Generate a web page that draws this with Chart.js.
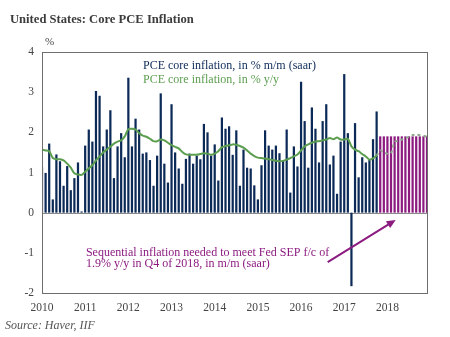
<!DOCTYPE html>
<html>
<head>
<meta charset="utf-8">
<script src="https://cdn.jsdelivr.net/npm/chart.js@4/dist/chart.umd.min.js"></script>
<style>
  html, body { margin: 0; padding: 0; background: #ffffff; }
  #wrap { width: 450px; height: 337px; position: relative; }
</style>
</head>
<body>
<div id="wrap"><canvas id="c" width="450" height="337"></canvas></div>
<script>
// Year labels along the time axis (monthly data, Jan 2010 – Dec 2018)
const years = ['2010', '2011', '2012', '2013', '2014', '2015', '2016', '2017', '2018'];
const monthNames = ['Jan', 'Feb', 'Mar', 'Apr', 'May', 'Jun', 'Jul', 'Aug', 'Sep', 'Oct', 'Nov', 'Dec'];

// PCE core inflation, % m/m seasonally adjusted annual rate (Jan 2010 – Oct 2017)
const coreMomSaar = [
  1.13, 0.99, 1.72, 0.33, 1.45, 1.28, 0.67, 1.16, 0.56, 0.86, 1.25, 0.03,
  1.67, 2.07, 1.77, 3.03, 2.91, 1.65, 2.07, 2.55, 0.86, 1.65, 1.98, 1.38,
  3.36, 1.65, 2.34, 2.07, 1.47, 1.50, 1.31, 0.67, 1.42, 2.97, 1.22, 0.75,
  2.70, 1.50, 1.10, 0.72, 1.34, 1.47, 1.22, 1.42, 1.33, 2.21, 2.00, 1.42,
  1.70, 0.80, 2.37, 2.09, 2.15, 1.44, 2.05, 0.67, 1.57, 1.12, 1.10, 0.68,
  0.33, 1.18, 2.05, 1.67, 1.57, 1.67, 1.48, 1.30, 2.07, 0.50, 1.65, 1.15,
  3.26, 2.28, 1.12, 2.62, 2.09, 1.25, 2.28, 2.70, 1.20, 1.42, 0.47, 1.77,
  3.45, 1.98, -1.83, 2.23, 0.88, 1.38, 1.25, 1.31, 1.83, 2.52
];

// PCE core inflation, % y/y (Jan 2010 – Oct 2017)
const coreYoy = [
  1.57, 1.55, 1.53, 1.36, 1.33, 1.33, 1.30, 1.22, 1.12, 0.98, 0.95, 0.94,
  1.02, 1.10, 1.18, 1.30, 1.40, 1.50, 1.57, 1.64, 1.72, 1.77, 1.80, 1.90,
  2.08, 2.09, 2.07, 1.98, 1.92, 1.89, 1.84, 1.78, 1.78, 1.82, 1.80, 1.74,
  1.68, 1.64, 1.60, 1.51, 1.45, 1.44, 1.44, 1.44, 1.46, 1.48, 1.47, 1.44,
  1.47, 1.53, 1.63, 1.66, 1.68, 1.70, 1.69, 1.66, 1.62, 1.55, 1.47, 1.41,
  1.37, 1.36, 1.35, 1.33, 1.31, 1.29, 1.28, 1.29, 1.32, 1.36, 1.40, 1.45,
  1.55, 1.65, 1.70, 1.74, 1.77, 1.78, 1.80, 1.82, 1.86, 1.83, 1.87, 1.82,
  1.82, 1.84, 1.65, 1.57, 1.53, 1.46, 1.40, 1.32, 1.35, 1.42
];

// Required sequential inflation, % m/m saar (Nov 2017 – Dec 2018)
const requiredMomSaar = [1.9, 1.9, 1.9, 1.9, 1.9, 1.9, 1.9, 1.9, 1.9, 1.9, 1.9, 1.9, 1.9, 1.9];

// Implied y/y path under the required pace (Oct 2017 – Dec 2018)
const impliedYoy = [1.42, 1.55, 1.50, 1.47, 1.48, 1.76, 1.79, 1.82, 1.85, 1.89, 1.93, 1.94, 1.93, 1.91, 1.90];

// Y-axis tick values
const yTicks = [4, 3, 2, 1, 0, -1, -2];

// Build category list and aligned series
const categories = [];
years.forEach(y => monthNames.forEach(m => categories.push(m + ' ' + y)));
const actualLen = coreMomSaar.length;

const barsActual = categories.map((_, i) => i < actualLen ? coreMomSaar[i] : null);
const barsRequired = categories.map((_, i) => i >= actualLen ? requiredMomSaar[i - actualLen] : null);
const lineActual = categories.map((_, i) => i < coreYoy.length ? coreYoy[i] : null);
const lineImplied = categories.map((_, i) => {
  const k = i - (coreYoy.length - 1);
  return k >= 0 && k < impliedYoy.length ? impliedYoy[k] : null;
});

const SERIF = '"Liberation Serif", "DejaVu Serif", serif';
const NAVY = '#0c2a57';
const GREEN = '#5c9e50';
const PURPLE = '#8c1b80';

// Annotation: arrow and note, positioned in data units
const noteLines = [
  'Sequential inflation needed to meet Fed SEP f/c of',
  '1.9% y/y in Q4 of 2018, in m/m (saar)'
];
const arrowFrom = { x: 79.4, y: -1.23 };
const arrowTo = { x: 98.3, y: -0.18 };

const decor = {
  id: 'decor',
  beforeDatasetsDraw(chart) {
    const { ctx, chartArea: a, scales } = chart;
    const y0 = scales.y.getPixelForValue(0);
    ctx.save();
    ctx.strokeStyle = '#8a8a8a';
    ctx.lineWidth = 1;
    ctx.beginPath();
    ctx.moveTo(a.left, Math.round(y0) + 0.5);
    ctx.lineTo(a.right, Math.round(y0) + 0.5);
    ctx.stroke();
    ctx.restore();
  },
  afterDraw(chart) {
    const { ctx, chartArea: a, scales } = chart;
    const xs = scales.x, ys = scales.y;
    ctx.save();
    // plot frame
    ctx.strokeStyle = '#6e6e6e';
    ctx.lineWidth = 1;
    ctx.strokeRect(Math.round(a.left) + 0.5, Math.round(a.top) + 0.5,
                   Math.round(a.right - a.left), Math.round(a.bottom - a.top));

    // title
    ctx.fillStyle = '#3c3c3c';
    ctx.textBaseline = 'middle';
    ctx.textAlign = 'left';
    ctx.font = 'bold 12.6px ' + SERIF;
    ctx.fillText('United States: Core PCE Inflation', 10, 20);

    // unit label
    ctx.font = '11px ' + SERIF;
    ctx.fillStyle = '#444';
    ctx.fillText('%', a.left + 3, 42);

    // series legend
    ctx.font = '12px ' + SERIF;
    ctx.fillStyle = NAVY;
    ctx.fillText('PCE core inflation, in % m/m (saar)', 143, 66);
    ctx.fillStyle = GREEN;
    ctx.fillText('PCE core inflation, in % y/y', 143, 80);

    // note
    ctx.fillStyle = PURPLE;
    ctx.font = '12px ' + SERIF;
    ctx.fillText(noteLines[0], xs.getPixelForValue(12.2), ys.getPixelForValue(-0.99));
    ctx.fillText(noteLines[1], xs.getPixelForValue(12.2), ys.getPixelForValue(-1.28));

    // arrow
    const x1 = xs.getPixelForValue(arrowFrom.x), y1 = ys.getPixelForValue(arrowFrom.y);
    const x2 = xs.getPixelForValue(arrowTo.x), y2 = ys.getPixelForValue(arrowTo.y);
    const ang = Math.atan2(y2 - y1, x2 - x1);
    ctx.strokeStyle = PURPLE;
    ctx.lineWidth = 2;
    ctx.beginPath();
    ctx.moveTo(x1, y1);
    ctx.lineTo(x2 - 6 * Math.cos(ang), y2 - 6 * Math.sin(ang));
    ctx.stroke();
    ctx.beginPath();
    ctx.moveTo(x2, y2);
    ctx.lineTo(x2 - 9 * Math.cos(ang) + 4 * Math.sin(ang), y2 - 9 * Math.sin(ang) - 4 * Math.cos(ang));
    ctx.lineTo(x2 - 9 * Math.cos(ang) - 4 * Math.sin(ang), y2 - 9 * Math.sin(ang) + 4 * Math.cos(ang));
    ctx.closePath();
    ctx.fillStyle = PURPLE;
    ctx.fill();

    // source
    ctx.fillStyle = '#555';
    ctx.font = 'italic 12px ' + SERIF;
    ctx.fillText('Source: Haver, IIF', 5, 326);
    ctx.restore();
  }
};

new Chart(document.getElementById('c'), {
  data: {
    labels: categories,
    datasets: [
      {
        type: 'line', label: 'PCE core inflation, in % y/y', data: lineActual,
        borderColor: GREEN, borderWidth: 2, pointRadius: 0, tension: 0.25,
        spanGaps: false, order: 0
      },
      {
        type: 'line', label: 'Implied y/y', data: lineImplied,
        borderColor: '#8fa58c', borderWidth: 2, borderDash: [3, 3], pointRadius: 0,
        tension: 0.25, spanGaps: false, order: 0
      },
      {
        type: 'bar', label: 'PCE core inflation, in % m/m (saar)', data: barsActual,
        backgroundColor: NAVY, grouped: false, barPercentage: 0.62, categoryPercentage: 1.0, order: 1
      },
      {
        type: 'bar', label: 'Required m/m (saar)', data: barsRequired,
        backgroundColor: PURPLE, grouped: false, barPercentage: 0.62, categoryPercentage: 1.0, order: 1
      }
    ]
  },
  options: {
    responsive: false,
    animation: false,
    devicePixelRatio: 1,
    layout: { padding: { top: 52, right: 23, bottom: 0, left: 0 } },
    plugins: { legend: { display: false }, tooltip: { enabled: false }, title: { display: false } },
    scales: {
      x: {
        type: 'category',
        offset: false,
        grid: { display: false, drawTicks: false },
        border: { display: false },
        ticks: {
          autoSkip: false, maxRotation: 0, minRotation: 0, padding: 8,
          color: '#444', font: { family: SERIF, size: 11.5 },
          callback: (v, i) => (i % 12 === 0 ? years[i / 12] : '')
        },
        afterFit: s => { s.height = 44; }
      },
      y: {
        min: -2, max: 4,
        grid: { display: false, drawTicks: false },
        border: { display: false },
        afterBuildTicks: s => { s.ticks = yTicks.map(v => ({ value: v })); },
        ticks: { padding: 8, color: '#444', font: { family: SERIF, size: 11.5 } },
        afterFit: s => { s.width = 42; }
      }
    }
  },
  plugins: [decor]
});
</script>
</body>
</html>
